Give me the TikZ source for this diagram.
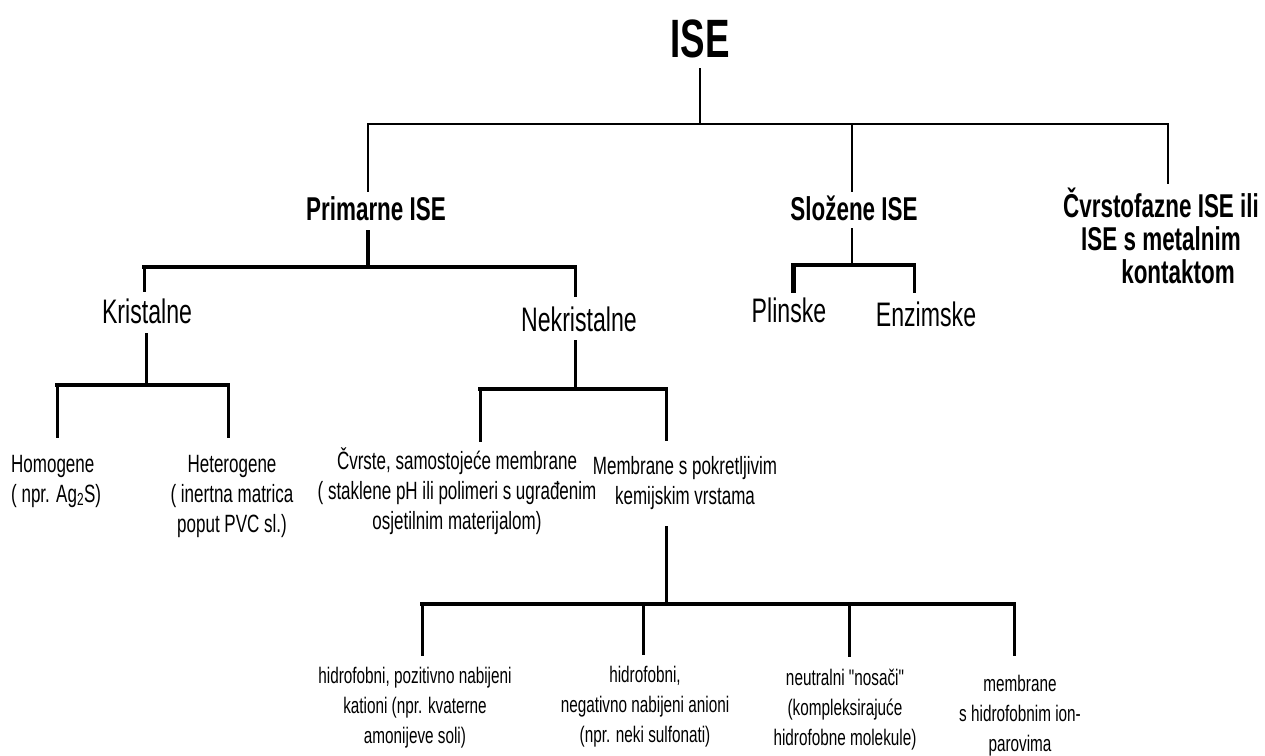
\documentclass[tikz,border=0pt]{standalone}
\usepackage{fontspec}
\setmainfont{Liberation Sans}[FakeStretch=0.68, Ligatures=TeXOff]
\begin{document}
\begin{tikzpicture}[x=1pt,y=-1pt,
  txt/.style={inner sep=0pt, anchor=base, align=center},
  big/.style={txt, font=\fontsize{54}{54}\selectfont\bfseries},
  lone/.style={txt, font=\fontsize{33}{33}\selectfont\bfseries},
  ltwo/.style={txt, font=\fontsize{34}{34}\selectfont},
  lthree/.style={txt, font=\fontsize{25}{30}\selectfont},
  lfour/.style={txt, font=\fontsize{22.5}{30}\selectfont},
  lnA/.style={line width=2.5pt},
  lnB/.style={line width=4pt},
  lnC/.style={line width=3pt},
  lnD/.style={line width=5pt},
  bus/.style={line cap=rect}
]
\useasboundingbox[fill=white] (0,0) rectangle (1265,755);

% ---------- nodes (multi-line nodes: base = last line) ----------
\node[big, text depth=11pt] (ise) at (700,57) {ISE};

\node[lone, text height=28pt, text depth=10pt] (prim) at (376,220) {Primarne ISE};
\node[lone, text height=28pt, text depth=8pt] (slo) at (854,220) {Složene ISE};
\node[lone] (cvr) at (1161,283) {Čvrstofazne ISE ili\\ISE s metalnim\\\hspace*{34pt}kontaktom};

\node[ltwo, text height=31pt, text depth=10pt] (kri) at (147,323) {Kristalne};
\node[ltwo, text height=34pt, text depth=9pt] (nek) at (579,331) {Nekristalne};
\node[ltwo, text height=29pt] (pli) at (789,322) {Plinske};
\node[ltwo, text height=33pt] (enz) at (926,326) {Enzimske};

\node[lthree, anchor=base west, align=left] (hom) at (11,502) {Homogene\\( npr. Ag\textsubscript{2}S)};
\node[lthree] (het) at (232,532) {Heterogene\\( inertna matrica\\poput PVC sl.)};
\node[lthree] (cvs) at (457,529) {Čvrste, samostojeće membrane\\( staklene pH ili polimeri s ugrađenim\\osjetilnim materijalom)};
\node[lthree] (memb) at (685,504) {Membrane s pokretljivim\\kemijskim vrstama};

\node[lfour] (hp) at (415,743) {hidrofobni, pozitivno nabijeni\\kationi (npr. kvaterne\\amonijeve soli)};
\node[lfour] (hn) at (645,742) {hidrofobni,\\negativno nabijeni anioni\\(npr. neki sulfonati)};
\node[lfour] (neu) at (845,745) {neutralni "nosači"\\(kompleksirajuće\\hidrofobne molekule)};
\node[lfour] (mem) at (1020,751) {membrane\\s hidrofobnim ion-\\parovima};

% ---------- junctions ----------
\coordinate (j0) at (700,124);
\coordinate (t1) at (368,124);
\coordinate (t2) at (852,124);
\coordinate (t3) at (1168,124);

\coordinate (p0) at (368,267);
\coordinate (p1) at (144,267);
\coordinate (p2) at (575,267);

\coordinate (s0) at (852,265);
\coordinate (s1) at (793,265);
\coordinate (s2) at (914,265);

\coordinate (k0) at (146,385);
\coordinate (k1) at (57,385);
\coordinate (k2) at (228,385);

\coordinate (n0) at (575,389);
\coordinate (n1) at (480,389);
\coordinate (n2) at (666,389);

\coordinate (m0) at (666,604);
\coordinate (b1) at (422,604);
\coordinate (b2) at (643,604);
\coordinate (b3) at (849,604);
\coordinate (b4) at (1014,604);

% ---------- connectors ----------
\draw[lnA] (ise.south) -- (j0);
\draw[lnA, bus] (t1) -- (t3);
\draw[lnA] (t1) -- (t1 |- prim.north);
\draw[lnA] (t2) -- (t2 |- slo.north);
\draw[lnA, shorten >=3pt] (t3) -- (t3 |- cvr.north);

\draw[lnB] (prim.south -| p0) -- (p0);
\draw[lnB, bus] (p1) -- (p2);
\draw[lnC] (p1) -- (p1 |- kri.north);
\draw[lnC] (p2) -- (p2 |- nek.north);

\draw[lnA] (slo.south -| s0) -- (s0);
\draw[lnB, bus] (s1) -- (s2);
\draw[lnD] (s1) -- (s1 |- pli.north);
\draw[lnC] (s2) -- (s2 |- enz.north);

\draw[lnC] (kri.south -| k0) -- (k0);
\draw[lnB, bus] (k1) -- (k2);
\draw[lnC, shorten >=17pt] (k1) -- (k1 |- hom.north);
\draw[lnC, shorten >=17pt] (k2) -- (k2 |- het.north);

\draw[lnC] (nek.south -| n0) -- (n0);
\draw[lnB, bus] (n1) -- (n2);
\draw[lnC, shorten >=5pt] (n1) -- (n1 |- cvs.north);
\draw[lnC, shorten >=15pt] (n2) -- (n2 |- memb.north);

\draw[lnC, shorten <=17pt] (memb.south -| m0) -- (m0);
\draw[lnB, bus] (b1) -- (b4);
\draw[lnC, shorten >=10.5pt] (b1) -- (b1 |- hp.north);
\draw[lnC, shorten >=10.5pt] (b2) -- (b2 |- hn.north);
\draw[lnC, shorten >=11.5pt] (b3) -- (b3 |- neu.north);
\draw[lnC, shorten >=18.5pt] (b4) -- (b4 |- mem.north);
\end{tikzpicture}
\end{document}
